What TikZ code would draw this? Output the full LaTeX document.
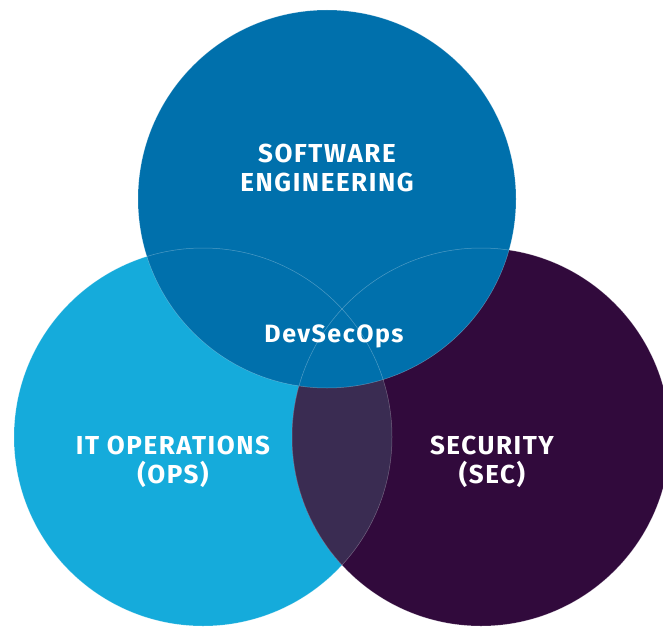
\documentclass[tikz,border=0pt]{standalone}
\usepackage{fontspec}
\setmainfont{Fira Sans}
\newfontfamily\lblfont[LetterSpace=6]{Fira Sans}
\usepackage{tikz}
\definecolor{swblue}{HTML}{0070AC}
\definecolor{opsblue}{HTML}{15ABDB}
\definecolor{secpurple}{HTML}{310A3C}
\definecolor{opssec}{HTML}{3A2C52}
\tikzset{
  ring/.style={draw=white, draw opacity=0.3, line width=0.5pt},
  lbl/.style={text=white, font=\lblfont\bfseries\fontsize{26}{29}\selectfont, align=center},
  mlabel/.style={text=white, font=\lblfont\bfseries\fontsize{25}{28}\selectfont}
}

\begin{document}
\begin{tikzpicture}[x=1pt, y=-1pt]
  \useasboundingbox (0,0) rectangle (663,626);
  \coordinate (SW) at (327,199);
  \coordinate (OPS) at (203,437);
  \coordinate (SEC) at (481,437);

  \fill[opsblue] (OPS) circle[radius=189];
  \fill[secpurple] (SEC) circle[radius=189];
  \begin{scope}
    \clip (OPS) circle[radius=189];
    \fill[opssec] (SEC) circle[radius=189];
  \end{scope}
  \fill[swblue] (SW) circle[radius=189];

  \draw[ring] (OPS) circle[radius=189];
  \draw[ring] (SEC) circle[radius=189];
  \draw[ring] (SW) circle[radius=189];

  \node[lbl] (swlbl) at (327,168) {SOFTWARE\\ENGINEERING};
  \node[lbl] (opslbl) at (173,462) {IT OPERATIONS\\(OPS)};
  \node[lbl] (seclbl) at (492,462) {SECURITY\\(SEC)};
  \node[mlabel, anchor=base] (dso) at (334,342) {DevSecOps};
\end{tikzpicture}
\end{document}
